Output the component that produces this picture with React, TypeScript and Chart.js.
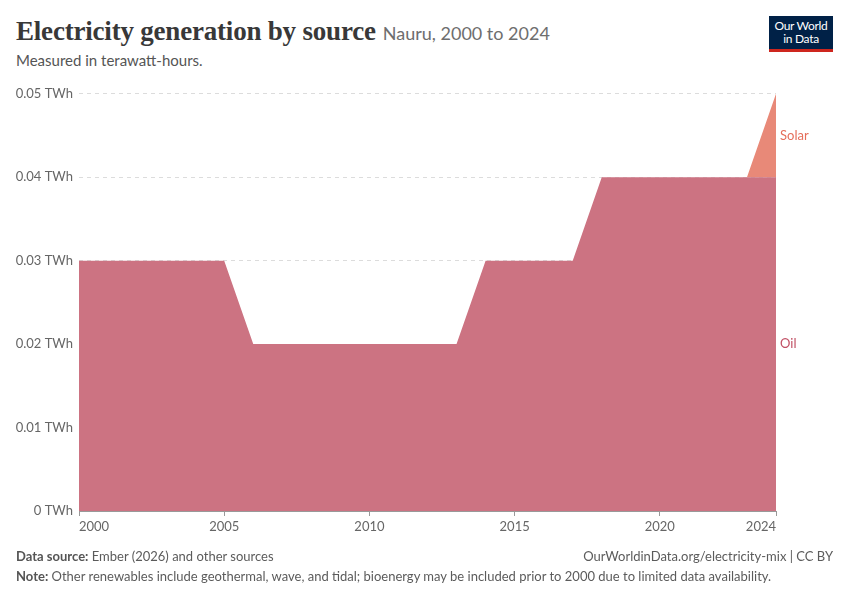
import { Chart, registerables } from "chart.js";
import { useEffect, useRef } from "react";

Chart.register(...registerables);

const years = [
  2000, 2001, 2002, 2003, 2004, 2005, 2006, 2007, 2008, 2009, 2010, 2011, 2012,
  2013, 2014, 2015, 2016, 2017, 2018, 2019, 2020, 2021, 2022, 2023, 2024,
];
const oil = [
  0.03, 0.03, 0.03, 0.03, 0.03, 0.03, 0.02, 0.02, 0.02, 0.02, 0.02, 0.02, 0.02,
  0.02, 0.03, 0.03, 0.03, 0.03, 0.04, 0.04, 0.04, 0.04, 0.04, 0.04, 0.04,
];
const solar = [
  0, 0, 0, 0, 0, 0, 0, 0, 0, 0, 0, 0, 0, 0, 0, 0, 0, 0, 0, 0, 0, 0, 0, 0, 0.01,
];
const xTicks = [2000, 2005, 2010, 2015, 2020, 2024];

const FONT = "Lato, 'Noto Sans', sans-serif";

const endLabels = {
  id: "endLabels",
  afterDatasetsDraw(chart: Chart) {
    const { ctx } = chart;
    const yScale = chart.scales.y;
    const xScale = chart.scales.x;
    const last = years.length - 1;
    const xPos = xScale.getPixelForValue(years[last]) + 4;
    const items = [
      { text: "Oil", color: "#c15065", mid: oil[last] / 2 },
      { text: "Solar", color: "#e56e5a", mid: oil[last] + solar[last] / 2 },
    ];
    ctx.save();
    ctx.font = `13px ${FONT}`;
    ctx.textBaseline = "middle";
    ctx.textAlign = "left";
    for (const it of items) {
      ctx.fillStyle = it.color;
      ctx.fillText(it.text, xPos, yScale.getPixelForValue(it.mid));
    }
    ctx.restore();
  },
};

function AreaChart() {
  const canvasRef = useRef<HTMLCanvasElement>(null);
  const chartRef = useRef<Chart | null>(null);

  useEffect(() => {
    if (!canvasRef.current) return;

    chartRef.current = new Chart(canvasRef.current, {
      type: "line",
      data: {
        datasets: [
          {
            label: "Oil",
            data: years.map((y, i) => ({ x: y, y: oil[i] })),
            borderColor: "rgba(193, 80, 101, 0.0)",
            backgroundColor: "rgba(204, 115, 130, 1)",
            fill: "origin",
            borderWidth: 0,
            pointRadius: 0,
            tension: 0,
          },
          {
            label: "Solar",
            data: years.map((y, i) => ({ x: y, y: solar[i] })),
            borderColor: "rgba(229, 110, 90, 0)",
            backgroundColor: "rgba(232, 137, 120, 1)",
            fill: "-1",
            borderWidth: 0,
            pointRadius: 0,
            tension: 0,
          },
        ],
      },
      plugins: [endLabels],
      options: {
        animation: false,
        responsive: false,
        maintainAspectRatio: false,
        layout: { padding: { top: 10, right: 74, bottom: 9, left: 0 } },
        plugins: {
          legend: { display: false },
          tooltip: { enabled: false },
        },
        scales: {
          x: {
            type: "linear",
            min: 2000,
            max: 2024,
            afterBuildTicks: (scale) => {
              scale.ticks = xTicks.map((v) => ({ value: v }));
            },
            afterFit: (scale) => {
              scale.height = 30;
            },
            ticks: {
              align: "inner",
              color: "#666",
              font: { family: FONT, size: 13 },
              padding: 3,
              maxRotation: 0,
              callback: (v) => String(v),
            },
            grid: {
              drawOnChartArea: false,
              drawTicks: true,
              tickLength: 5,
              color: "#999",
            },
            border: { display: true, color: "#999" },
          },
          y: {
            stacked: true,
            min: 0,
            max: 0.05,
            afterFit: (scale) => {
              scale.width = 79;
            },
            ticks: {
              stepSize: 0.01,
              color: "#666",
              padding: 6,
              font: { family: FONT, size: 13 },
              callback: (v) => `${Number(v).toFixed(2).replace(/^0\.00$/, "0")} TWh`,
            },
            grid: {
              color: (c) => (c.tick.value === 0 ? "rgba(0,0,0,0)" : "#dcdcdc"),
              drawTicks: false,
            },
            border: { display: false, dash: [4, 4] },
          },
        },
      },
    });

    return () => chartRef.current?.destroy();
  }, []);

  return <canvas ref={canvasRef} width={850} height={470} style={{ display: "block" }} />;
}

export default function App() {
  useEffect(() => {
    document.body.style.margin = "0";
  }, []);

  return (
    <div
      style={{
        position: "relative",
        width: 850,
        height: 600,
        background: "#fff",
        fontFamily: FONT,
        overflow: "hidden",
      }}
    >
      <div
        style={{
          position: "absolute",
          left: 16,
          top: 16,
          whiteSpace: "nowrap",
        }}
      >
        <span
          style={{
            fontFamily: "'Liberation Serif', 'DejaVu Serif', serif",
            fontSize: 27,
            fontWeight: 700,
            color: "#383838",
            letterSpacing: -0.2,
          }}
        >
          Electricity generation by source
        </span>
        <span style={{ fontSize: 18, color: "#6e6e6e", marginLeft: 7 }}>
          Nauru, 2000 to 2024
        </span>
      </div>
      <div
        style={{
          position: "absolute",
          left: 16,
          top: 51,
          fontSize: 15,
          color: "#555",
        }}
      >
        Measured in terawatt-hours.
      </div>
      <div
        style={{
          position: "absolute",
          left: 769,
          top: 16,
          width: 64,
          height: 36,
          background: "#002147",
          borderBottom: "3px solid #ce261e",
          boxSizing: "border-box",
          color: "#fff",
          fontSize: 12,
          lineHeight: "13px",
          textAlign: "center",
          paddingTop: 3,
          letterSpacing: -0.3,
        }}
      >
        Our World
        <br />
        in Data
      </div>
      <div style={{ position: "absolute", left: 0, top: 80 }}>
        <AreaChart />
      </div>
      <div
        style={{
          position: "absolute",
          left: 16,
          top: 548,
          fontSize: 13,
          color: "#5b5b5b",
        }}
      >
        <b style={{ color: "#555" }}>Data source:</b> Ember (2026) and other sources
      </div>
      <div
        style={{
          position: "absolute",
          right: 17,
          top: 548,
          fontSize: 13,
          color: "#5b5b5b",
        }}
      >
        OurWorldinData.org/electricity-mix | CC BY
      </div>
      <div
        style={{
          position: "absolute",
          left: 16,
          top: 568,
          fontSize: 13,
          color: "#5b5b5b",
        }}
      >
        <b style={{ color: "#555" }}>Note:</b> Other renewables include geothermal, wave, and tidal; bioenergy may be included prior to 2000 due to limited data availability.
      </div>
    </div>
  );
}
